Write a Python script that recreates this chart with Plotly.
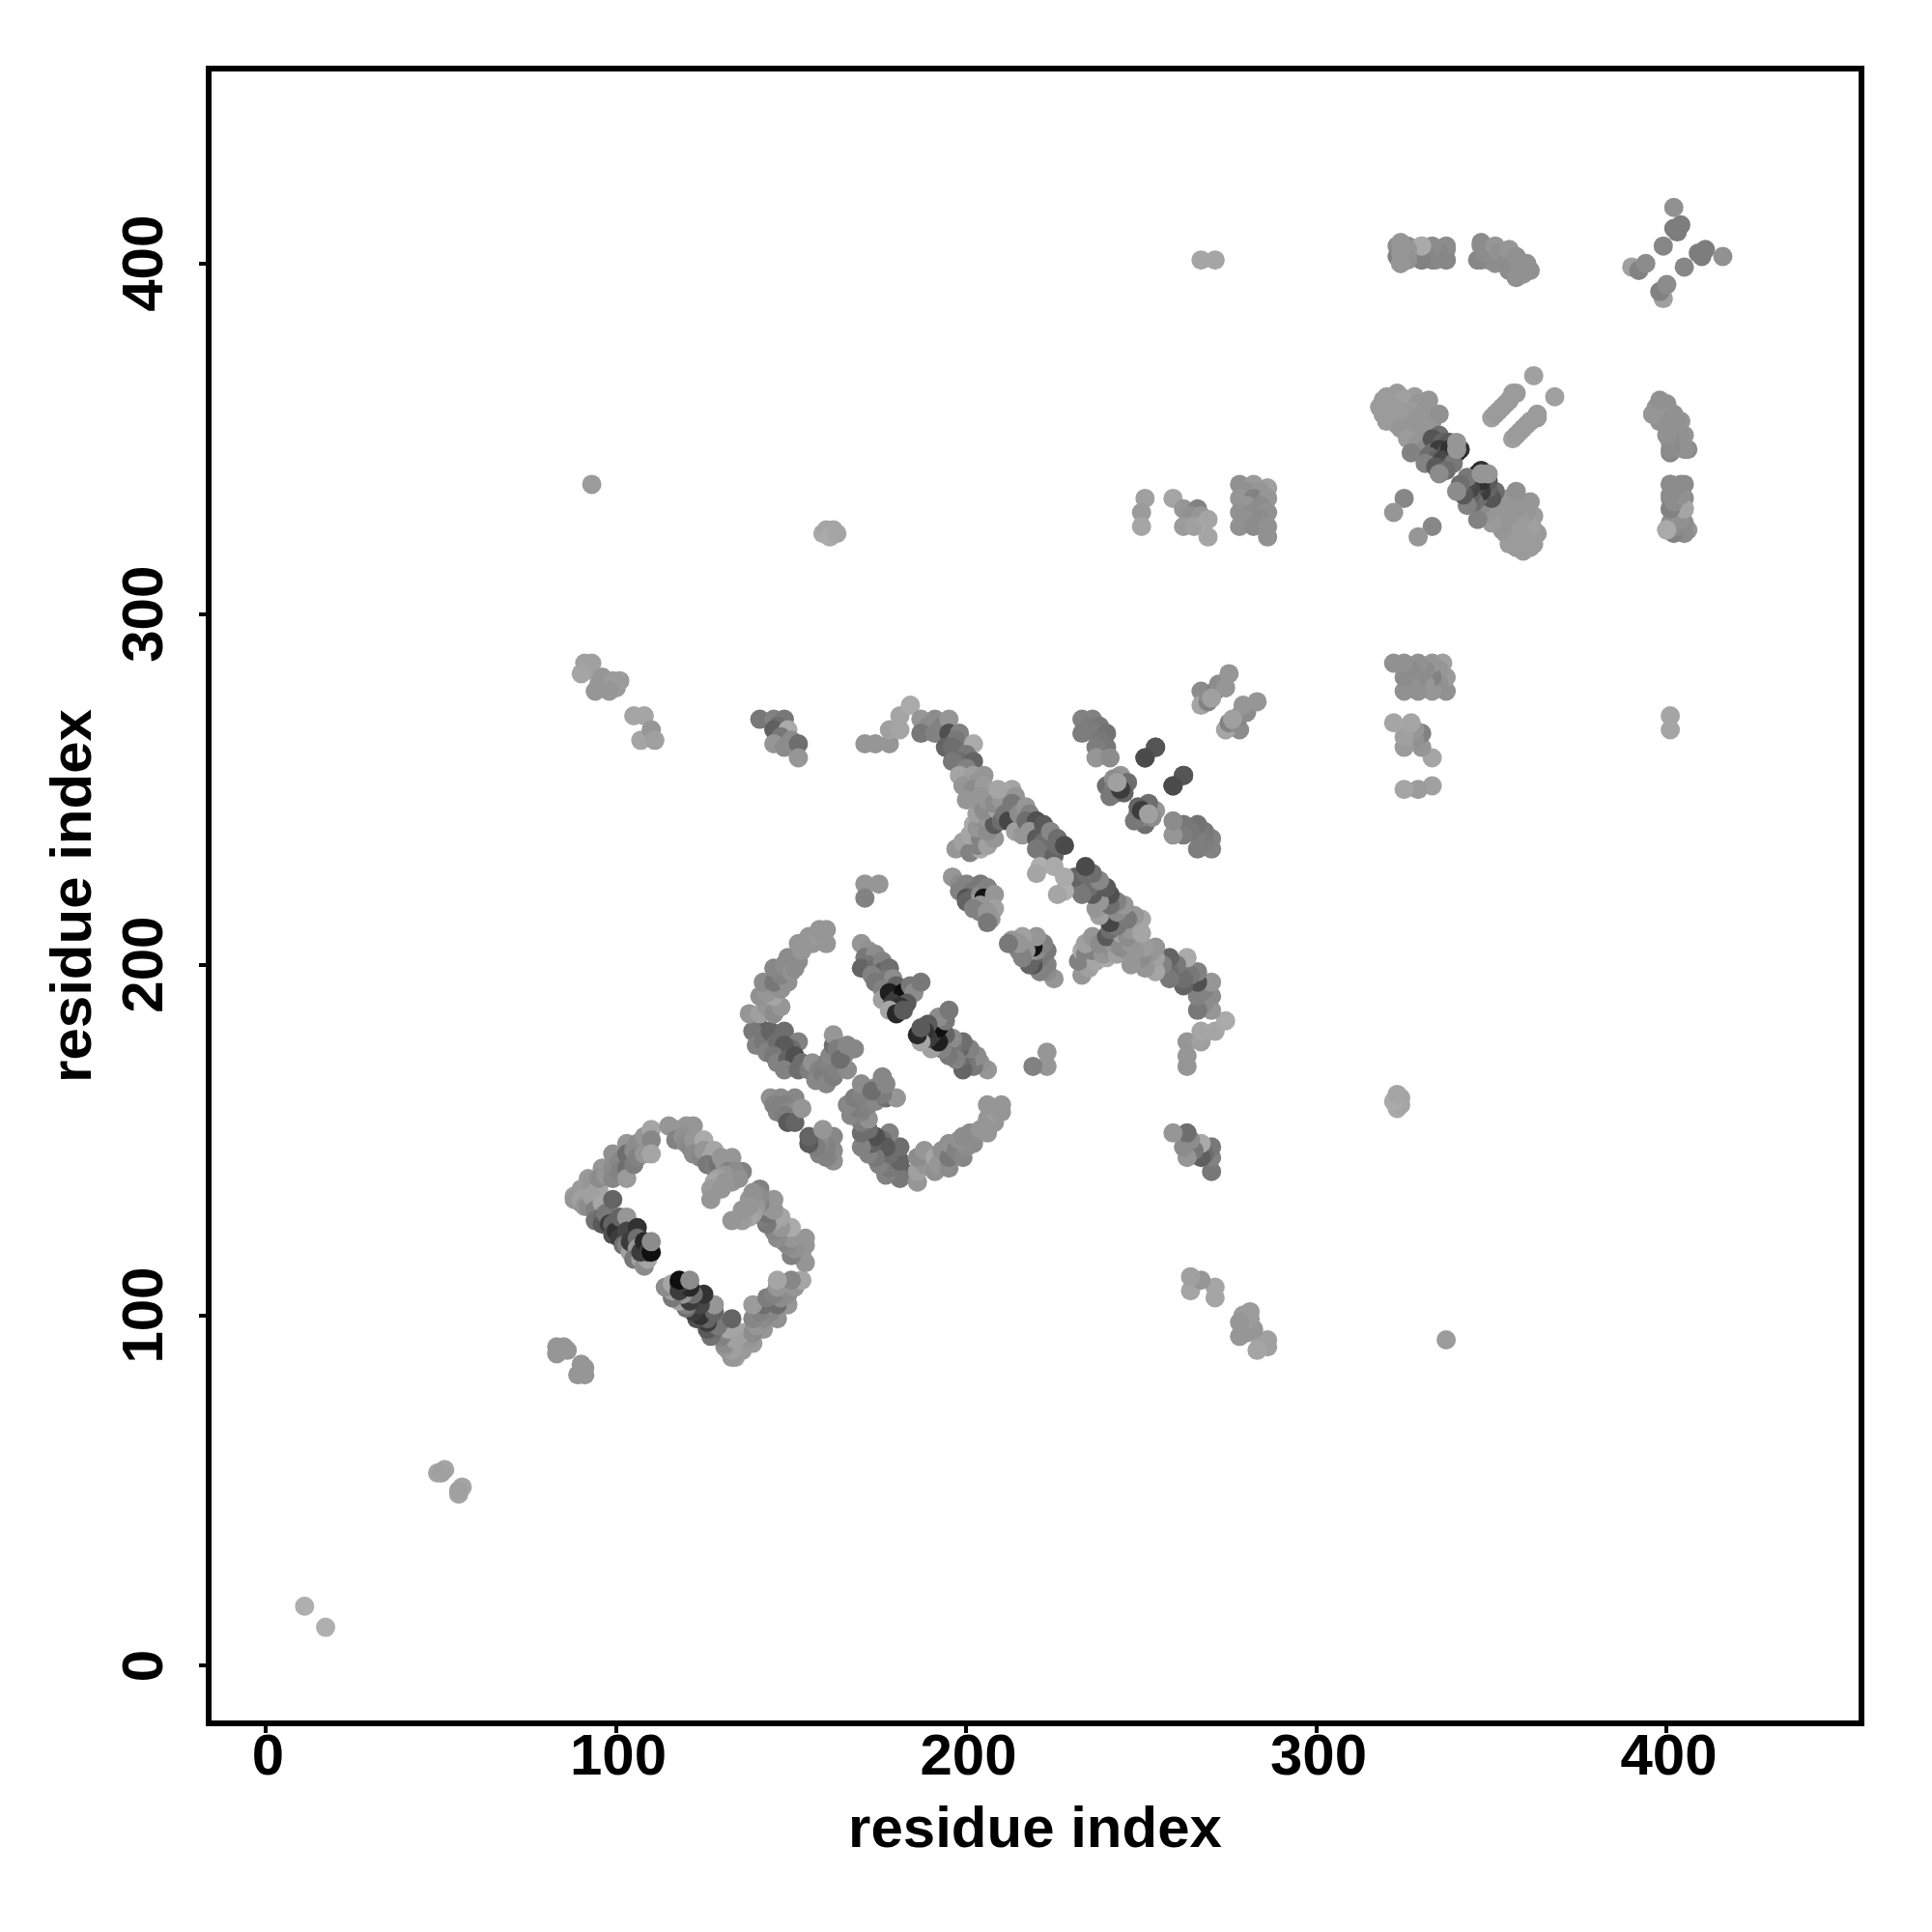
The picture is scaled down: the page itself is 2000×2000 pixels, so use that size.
import plotly.graph_objects as go

# Each contact is (residue_i, residue_j, grey level); the map is symmetric about i = j.
ticks = [0, 100, 200, 300, 400]
axis_label = "residue index"

near_diag = [(11,17,175),(49,55,165),(51,56,165),(50,55,160),(83,91,150),(85,91,150),(83,89,150),(84,90,150),(86,90,150)]

strip_b = [(88,134,160),(90,132,150),(90,136,155),(92,139,155),(93,135,155),(93,138,150),(95,136,165),(96,142,150),(95,139,140),
           (97,140,150),(99,146,145),(99,142,140),(99,139,135),(101,144,135),(101,141,130),(103,149,150),(103,146,110),(103,142,110),
           (103,139,155),(105,147,140),(105,143,125),(106,149,140),(106,145,130),(108,148,140),(108,151,150),(108,146,150),
           (110,153,165),(110,150,135),(110,146,165)]

strip_c = [(115,154,150),(117,153,150),(118,152,150),(120,154,150),(122,154,150),(117,150,130),(119,151,145),(120,149,140),(121,148,135),
           (122,150,150),(123,148,150),(125,150,170),(122,146,140),(124,145,135),(125,147,150),(127,145,165),(128,147,165),(126,143,120),
           (128,142,125),(129,143,115),(130,145,150),(131,143,150),(133,145,150),(132,141,130),(136,141,130),(134,141,140),(131,140,150),
           (133,138,150),(135,139,145),(129,139,160),(128,138,165),(131,138,150),(127,136,155),(130,136,150),(127,133,150)]

strip_a = [(88,133,150),(90,133,160),(91,131,150),(92,131,140),(93,134,160),(94,130,130),(94,127,115),(96,132,165),(96,128,110),(96,126,90),
           (97,129,120),(98,126,60),(99,126,100),(99,123,80),(100,124,50),(99,133,100),(101,128,100),(103,128,150),(101,122,60),(103,124,70),
           (102,120,110),(103,120,130),(104,118,160),(104,121,60),(106,125,50),(106,122,110),(106,119,150),(105,116,120),(107,116,160),
           (108,114,140),(109,116,165),(107,118,60),(108,121,40),(109,118,60),(110,118,15),(110,121,140)]

strip_d = [(141,182,100),(139,181,120),(140,177,130),(142,178,120),(143,175,130),(144,181,100),(146,178,110),(148,181,110),(152,178,130),
           (150,176,110),(148,177,90),(145,174,120),(146,172,130),(149,173,100),(151,174,80),(148,170,130),(152,170,110),(153,172,110),
           (155,170,125),(156,172,145),(158,170,130),(157,167,135),(159,169,125),(160,172,130),(161,174,135),(160,166,135),(162,168,125),
           (163,170,130),(162,177,110),(162,180,150),(163,176,125),(165,174,140),(166,170,140),(164,173,110),(166,177,135),(168,176,135),
           (138,186,150),(141,186,160),(143,188,150),(145,186,140),(147,188,150),(141,191,145),(145,191,165),(143,192,150),(147,193,145),
           (142,195,140),(145,195,120),(149,195,145),(147,197,130),(145,199,135),(149,202,140),(148,200,140),(150,198,145),(151,199,140),
           (152,201,140),(152,206,150),(153,204,150),(155,208,150),(156,206,150),(158,208,155),(160,206,150),(158,210,150),(160,210,150)]

pocket_e = [(144,162,145),(147,162,140),(146,161,140),(151,162,135),(145,160,130),(148,160,130),(146,158,130),(149,158,135),(151,158,140),
            (148,157,125),(149,155,90),(151,155,100),(153,159,150)]

strip_f = [(171,223,150),(175,223,150),(171,219,130)]

strip_g = [(170,206,150),(172,204,145),(171,202,120),(174,203,140),(172,200,120),(170,199,100),(174,199,110),(176,201,130),(176,198,100),
           (178,199,110),(177,196,120),(173,197,130),(179,196,140),(174,195,120),(176,193,130),(180,194,100),(176,190,160),(178,192,30),
           (180,190,60),(182,192,15),(184,194,120),(185,192,140),(187,195,120),(179,189,60),(183,189,90),(181,188,50),(178,187,165),(180,186,40),(182,187,90)]

strip_h = [(196,225,150),(198,223,140),(200,223,130),(204,223,120),(198,221,130),(202,221,120),(200,219,80),(200,218,100),(202,219,100),(204,220,140),
           (204,218,160),(206,222,130),(206,218,165),(205,219,20),(208,220,150),(208,216,160),(204,217,150),(202,216,130),(204,215,130),
           (206,215,150),(207,213,150),(206,212,120)]

arc_top = [(171,263,150),(174,263,150),(178,263,150),(178,267,160),(181,267,165),(181,271,165),(184,274,170),(187,270,150),(189,268,140),
           (191,270,140),(193,268,130),(195,270,150),(187,266,120),(191,266,130),(195,266,80),(198,266,130),(197,264,120),(194,262,100),(196,262,110),
           (202,263,170),(200,260,120),(198,258,110),(202,258,100),(196,258,120),(200,256,130),(198,254,165),(202,254,160),(205,254,150),
           (199,251,150),(203,252,150),(202,250,140),(205,251,155),(200,247,150),(204,248,150)]

strip_i = [(197,233,150),(199,235,160),(201,232,130),(204,233,170),(203,234,130),(201,237,165),(204,236,130),(206,234,160),(208,236,150),
           (202,240,170),(203,239,150),(206,238,140),(204,242,140),(203,243,160),(206,242,150),(204,246,150),(208,240,90),(205,244,140),(209,244,165),
           (206,247,150),(208,246,140),(210,247,150),(210,241,110),(211,243,120),(212,241,70),(214,238,160),(216,237,150),(209,250,165),(213,250,165),
           (214,248,150),(213,246,120),(215,243,140),(217,245,150),(218,243,130),(217,241,110),(220,241,80),(218,238,150),(220,236,90),(222,240,90),
           (222,235,110),(224,238,135),(220,233,120),(222,231,120),(224,230,120),(225,231,100),(226,236,110),(226,234,110),(228,234,75),(221,228,175),
           (225,228,170),(220,226,165)]

strip_j = [(141,270,120),(145,270,130),(148,270,120),(146,268,110),(145,267,95),(149,267,170),(147,265,120),(145,263,150),(148,262,140),(150,264,140),
           (152,263,110),(152,259,150)]

strip_k = [(233,270,130),(236,270,130),(235,268,125),(238,268,120),(233,266,125),(237,266,125),(240,266,115),(238,264,120),(240,262,120),(237,262,125),
           (237,259,150),(241,259,140),(254,262,85),(251,259,75),(262,254,85),(259,251,75),(244,254,150),(240,251,110),(242,253,140),(242,250,130),
           (246,252,110),(241,248,120),(243,249,120),(245,249,100),(244,250,60),(243,252,160)]

strip_l = [(267,278,140),(268,276,145),(267,274,165),(269,275,130),(269,277,140),(271,278,130),(272,280,140),(274,279,150),(275,283,150),(270,276,160)]

block_m = [(251,333,160),(250,329,155),(250,325,165),(259,333,165),(262,330,150),(266,330,130),(264,328,145),(267,328,150),(262,325,155),(265,325,160),
           (269,327,165),(269,322,165),(278,337,145),(282,337,155),(286,336,160),(280,335,145),(284,335,150),(278,333,150),(282,333,130),(286,333,150),
           (280,331,150),(284,331,140),(278,329,145),(282,329,140),(286,329,145),(280,327,145),(284,327,140),(278,325,145),(282,325,140),(286,325,145),(286,322,145)]

cross_n = [(325,333,135),(322,329,150)]

cross_o = [(323,363,155),(320,362,155),(324,362,155),(319,361,155),(318,359,155),(328,362,155),(332,361,150),(325,361,160),(329,360,150),(330,359,150),
           (322,359,155),(321,358,155),(323,358,155),(327,358,155),(330,357,150),(319,357,155),(325,357,155),(321,356,155),(326,356,155),(320,355,155),
           (333,355,150),(335,357,145),(323,354,155),(331,354,150),(328,355,150),(324,353,150),(326,353,150),(330,352,150),(327,351,150),(326,350,155),
           (329,349,150),(331,347,140),(327,346,130),(335,351,110),(333,350,85),(336,349,100),(338,349,90),(333,346,110),(335,347,60),(332,345,110),
           (337,346,80),(338,347,50),(339,345,30),(334,344,100),(336,344,70),(341,347,50),(340,346,40),(331,343,130),(337,343,75),(334,342,90),
           (339,343,120),(337,341,110),(335,340,140),(340,347,150),(340,349,150)]

parallel_p = [(350,356,160),(351,357,155),(352,358,155),(353,359,155),(354,360,155),(355,361,155),(356,363,155),(357,363,155),(362,368,160)]

far_q = [(401,346,135),(406,347,140),(403,348,140),(401,351,140),(405,351,150),(403,352,145),(398,355,140),(400,354,140),(404,355,150),(396,357,145),(402,357,145),
         (399,358,145),(398,360,145),(400,360,145),(401,337,135),(405,337,140),(403,335,135),(401,333,135),(405,333,140),(403,331,135),(401,330,130),(405,330,170),
         (402,326,145),(404,326,150),(401,326,145),(400,324,150),(403,324,150),(406,324,150)]

far_r = [(390,399,160),(392,398,130),(394,400,140),(399,405,135),(403,409,125),(402,410,125),(404,411,125),(402,416,145)]

top_s = [(323,405,140),(326,405,140),(323,402,130),(325,403,140),(327,404,145),(324,400,170),(330,405,165),(330,401,130),(332,402,140),(334,404,145),
         (337,404,140),(336,402,140),(334,401,140),(337,401,140),(347,405,145),(351,404,145),(349,403,145),(347,401,140),(349,401,140),(351,400,145),
         (353,401,145),(355,403,145),(355,398,145),(357,400,145),(358,399,145),(357,396,150),(359,397,150),(361,398,145)]

sparse_t = [(267,401,165),(271,401,165),(93,337,155),(159,323,170),(160,324,165),(162,324,165),(161,322,170),(163,323,165)]

cluster_u = [(91,286,160),(93,286,160),(92,284,160),(90,283,165),(94,278,150),(95,280,150),(96,282,150),(99,281,155),(101,281,155),(100,279,155),(98,278,150),
             (105,271,165),(108,271,165),(107,264,165),(110,267,150),(111,264,160)]

groups = [near_diag, cluster_u, strip_b, strip_c, strip_a, strip_d, pocket_e, strip_f, strip_g, strip_h, arc_top, strip_i,
          strip_j, strip_k, strip_l, block_m, cross_n, cross_o, parallel_p, far_q, far_r, top_s, sparse_t]

contacts = [c for g in groups for c in g]
res_i = [c[0] for c in contacts]
res_j = [c[1] for c in contacts]
grey = [f"rgb({c[2]},{c[2]},{c[2]})" for c in contacts]

font = dict(family="Liberation Sans, Arial, sans-serif", size=60, color="black", weight=700)

fig = go.Figure(go.Scatter(
    x=res_i + res_j, y=res_j + res_i, mode="markers",
    marker=dict(size=20, color=grey + grey, line=dict(width=0), opacity=1),
    hoverinfo="skip"))

axis = dict(range=[-16.4, 455.6], tickmode="array", tickvals=ticks, ticktext=[str(t) for t in ticks],
            ticks="outside", ticklen=9, tickwidth=3.5, tickcolor="black", showgrid=False, zeroline=False,
            showline=False, tickfont=font)

fig.update_layout(
    width=1984, height=1984, autosize=False,
    margin=dict(l=208, r=65, t=63, b=208),
    paper_bgcolor="white", plot_bgcolor="white", showlegend=False,
    xaxis=dict(axis, ticklabelstandoff=-29, ticklabelshift=2, title=dict(text=axis_label, font=font, standoff=20)),
    yaxis=dict(axis, ticklabelstandoff=14, ticklabelshift=9, tickangle=-90, title=dict(text=axis_label, font=font, standoff=0)),
    shapes=[dict(type="rect", xref="paper", yref="paper", x0=0, y0=0, x1=1, y1=1,
                 line=dict(color="black", width=6), layer="above")],
)
fig.write_html("out.html")
